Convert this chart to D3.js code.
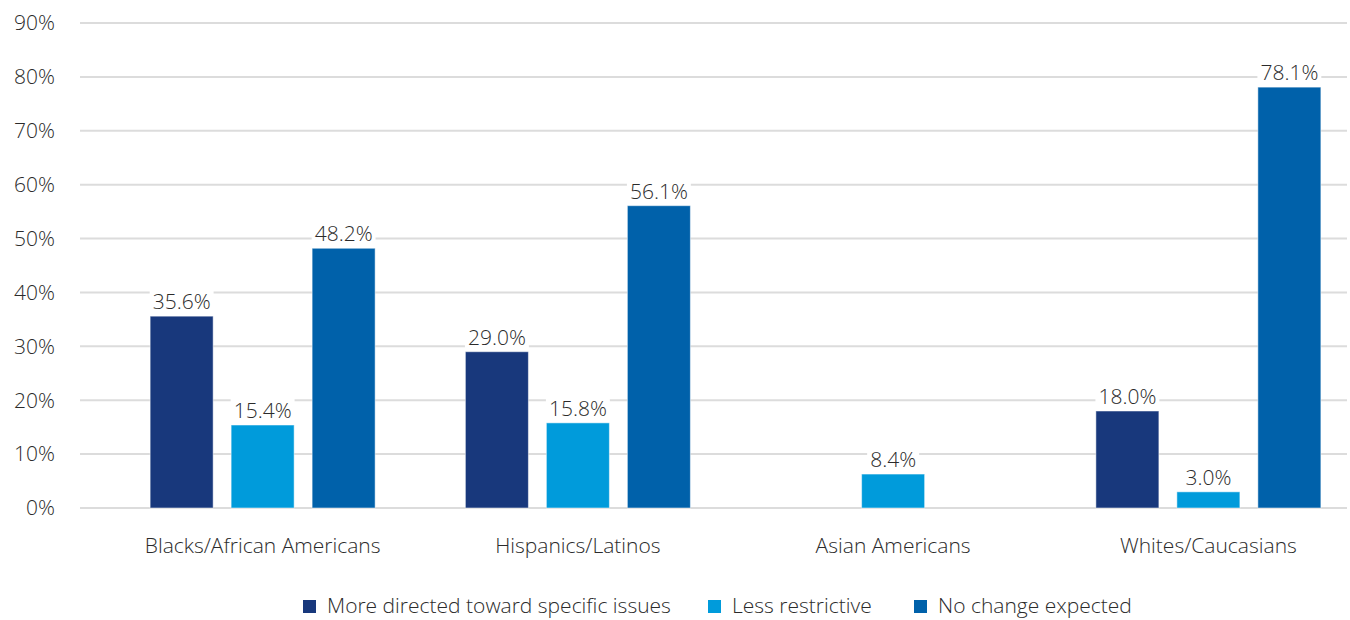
<!DOCTYPE html>
<html>
<head>
<meta charset="utf-8">
<script src="https://cdn.jsdelivr.net/npm/d3@7"></script>
<style>
  body { margin: 0; background: #fff; }
  text { font-family: "Open Sans", sans-serif; font-weight: 300; fill: #2b2b2b; }
</style>
</head>
<body>
<div id="main"></div>
<script>
const categories = ["Blacks/African Americans", "Hispanics/Latinos", "Asian Americans", "Whites/Caucasians"];
const seriesNames = ["More directed toward specific issues", "Less restrictive", "No change expected"];
const seriesColors = ["#18387c", "#009bdb", "#0061aa"];
// bar heights as drawn (Asian bar is drawn lower than its label says)
const moreDirected = [35.6, 29.0, null, 18.0];
const lessRestrictive = [15.4, 15.8, 6.3, 3.0];
const noChange = [48.2, 56.1, null, 78.1];
const lessRestrictiveLabels = ["15.4%", "15.8%", "8.4%", "3.0%"];
const yTicks = [0, 10, 20, 30, 40, 50, 60, 70, 80, 90];

const W = 1350, H = 620;
const svg = d3.select("#main").append("svg").attr("width", W).attr("height", H);

const y = d3.scaleLinear().domain([0, 90]).range([508, 23]);
const x0 = d3.scaleBand().domain(categories).range([105, 1366]);
const x1 = d3.scaleBand().domain(d3.range(3)).range([-112.5, 112.5]).paddingInner(0.222);

// grid
svg.append("g").selectAll("line").data(yTicks).enter().append("line")
    .attr("x1", 80).attr("x2", 1347)
    .attr("y1", d => y(d)).attr("y2", d => y(d))
    .attr("stroke", "#dcdcdc").attr("stroke-width", 2);

svg.append("g").selectAll("text").data(yTicks).enter().append("text")
    .attr("x", 55).attr("y", d => y(d)).attr("dy", "0.35em")
    .attr("text-anchor", "end").attr("font-size", 21)
    .text(d => d + "%");

const series = [
    { vals: moreDirected, labels: moreDirected.map(v => v == null ? "" : v.toFixed(1) + "%") },
    { vals: lessRestrictive, labels: lessRestrictiveLabels },
    { vals: noChange, labels: noChange.map(v => v == null ? "" : v.toFixed(1) + "%") }
];

const bars = [];
series.forEach((s, si) => {
    s.vals.forEach((v, ci) => {
        if (v == null) return;
        bars.push({ si: si, cat: categories[ci], v: v, label: s.labels[ci] });
    });
});

const g = svg.append("g");
g.selectAll("rect").data(bars).enter().append("rect")
    .attr("x", d => x0(d.cat) + x0.bandwidth() / 2 + x1(d.si))
    .attr("y", d => y(d.v))
    .attr("width", x1.bandwidth())
    .attr("height", d => y(0) - y(d.v))
    .attr("fill", d => seriesColors[d.si])
    .attr("stroke", "#fff").attr("stroke-opacity", 0.5).attr("stroke-width", 1);

const lbl = svg.append("g").selectAll("g").data(bars).enter().append("g")
    .attr("transform", d => `translate(${x0(d.cat) + x0.bandwidth() / 2 + x1(d.si) + x1.bandwidth() / 2},${y(d.v) - 7})`);
lbl.append("text")
    .attr("text-anchor", "middle").attr("font-size", 21)
    .text(d => d.label);
lbl.each(function () {
    const t = d3.select(this).select("text");
    const b = t.node().getBBox();
    d3.select(this).insert("rect", "text")
        .attr("x", b.x - 3).attr("y", b.y + 2).attr("width", b.width + 6).attr("height", b.height - 4)
        .attr("fill", "#fff");
});

// category labels
svg.append("g").selectAll("text").data(categories).enter().append("text")
    .attr("x", d => x0(d) + x0.bandwidth() / 2).attr("y", 546).attr("dy", "0.35em")
    .attr("text-anchor", "middle").attr("font-size", 21)
    .text(d => d);

// legend
const legendX = [303, 708, 914];
const leg = svg.append("g").selectAll("g").data(seriesNames).enter().append("g")
    .attr("transform", (d, i) => `translate(${legendX[i]},606)`);
leg.append("rect").attr("x", 0).attr("y", -6).attr("width", 13).attr("height", 13)
    .attr("fill", (d, i) => seriesColors[i]);
leg.append("text").attr("x", 24).attr("dy", "0.35em").attr("font-size", 21).text(d => d);
</script>
</body>
</html>
